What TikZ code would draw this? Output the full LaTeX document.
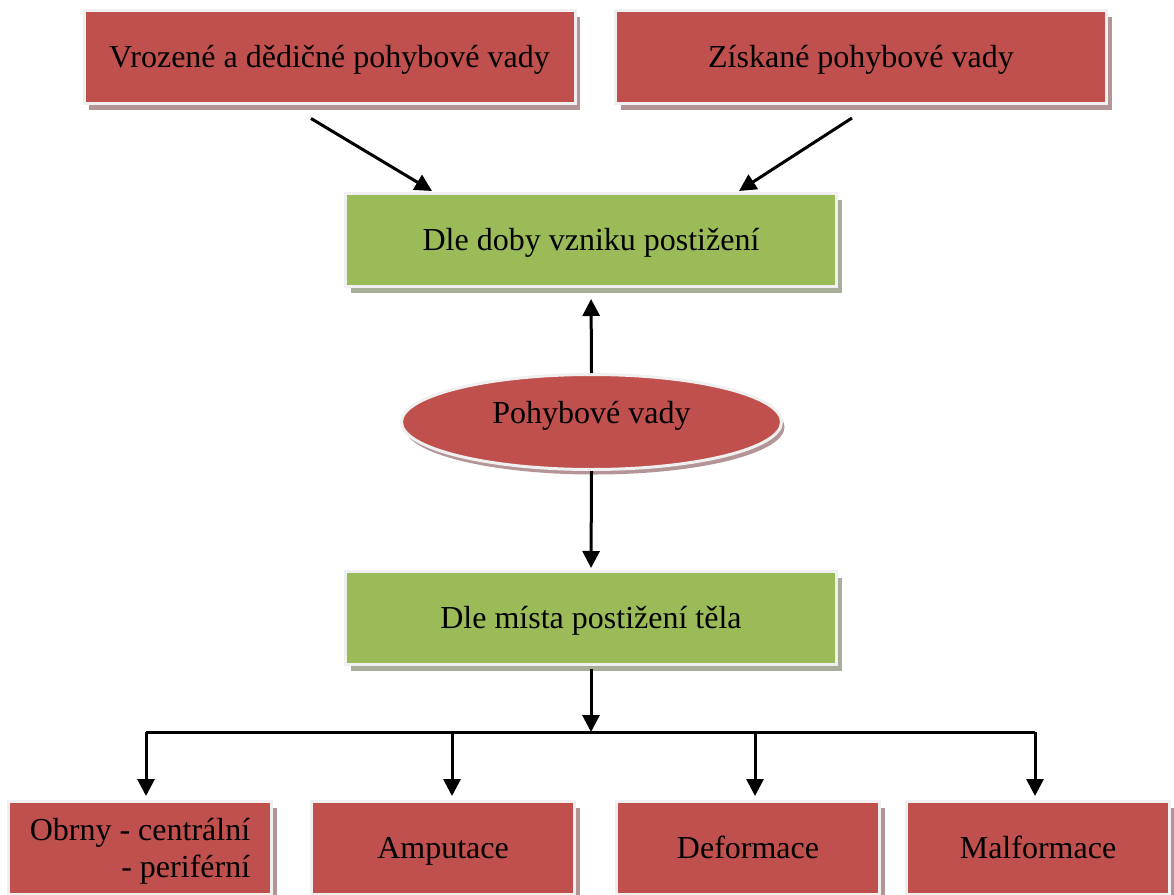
\documentclass[tikz,border=0pt]{standalone}
\usepackage{fontspec}
\setmainfont{Liberation Serif}
\usetikzlibrary{arrows.meta,shapes.geometric,shadows,calc}
\definecolor{boxred}{HTML}{C0504D}
\definecolor{boxgreen}{HTML}{9BBB59}
\definecolor{rim}{HTML}{F0F0F0}
\definecolor{redshade}{HTML}{B49597}
\definecolor{greenshade}{HTML}{A7AE99}
\tikzset{
  base/.style={draw=rim, line width=3pt, inner sep=0pt, text=black,
    text height=21pt, text depth=0pt,
    font=\fontsize{32}{37}\selectfont},
  redbox/.style={base, rectangle, fill=boxred,
    drop shadow={shadow xshift=5pt, shadow yshift=-6pt, fill=redshade, opacity=1}},
  greenbox/.style={base, rectangle, fill=boxgreen,
    drop shadow={shadow xshift=5pt, shadow yshift=-6pt, fill=greenshade, opacity=1}},
  wide/.style={minimum width=491pt, minimum height=93pt},
  narrow/.style={minimum width=263pt, minimum height=93pt},
  oval/.style={base, ellipse, fill=boxred, minimum width=380pt, minimum height=95pt,
    text depth=19pt,
    drop shadow={shadow xshift=3pt, shadow yshift=-5pt, fill=redshade, opacity=1}},
  arr/.style={line width=3pt, -{Triangle[length=17pt,width=17pt]}},
  bus/.style={line width=3pt}
}
\begin{document}
\begin{tikzpicture}[x=1pt,y=-1pt]
\useasboundingbox (0,0) rectangle (1174,894);

% upper row
\node[redbox, wide] (vroz) at (329.5,57) {Vrozené a dědičné pohybové vady};
\node[redbox, wide] (zisk) at (861,57) {Získané pohybové vady};

% classifications
\node[greenbox, wide] (doba) at (591,240) {Dle doby vzniku postižení};
\node[oval] (vady) at (591.5,422) {Pohybové vady};
\node[greenbox, wide] (misto) at (591,618) {Dle místa postižení těla};

% bottom row
\node[redbox, narrow, align=right, text height=58pt] (obrny) at (140,848)
  {Obrny - centrální\\- periférní};
\node[redbox, narrow] (amp) at (443,848) {Amputace};
\node[redbox, narrow] (def) at (748,848) {Deformace};
\node[redbox, narrow] (mal) at (1038,848) {Malformace};

% arrows into the time-of-origin box
\draw[arr] ($(vroz.south)+(-18.5,13.5)$) -- ($(doba.north west)+(88,-1)$);
\draw[arr] ($(zisk.south)+(-9,13)$) -- ($(doba.north east)+(-99,-1)$);

% central oval to both classifications
\draw[arr, shorten >=11pt] (vady.north) -- (doba.south);
\draw[arr, shorten >=2pt] (vady.south) -- (misto.north);

% branching to the four kinds
\coordinate (hub) at (591,732);
\coordinate (b1) at (146,732);
\coordinate (b2) at (452,732);
\coordinate (b3) at (755,732);
\coordinate (b4) at (1035,732);
\draw[arr, shorten <=3pt] (misto.south) -- (hub);
\draw[bus] (b1) -- (b4);
\draw[arr, shorten >=4pt] (b1) -- (b1 |- obrny.north);
\draw[arr, shorten >=4pt] (b2) -- (b2 |- amp.north);
\draw[arr, shorten >=4pt] (b3) -- (b3 |- def.north);
\draw[arr, shorten >=4pt] (b4) -- (b4 |- mal.north);
\end{tikzpicture}
\end{document}
